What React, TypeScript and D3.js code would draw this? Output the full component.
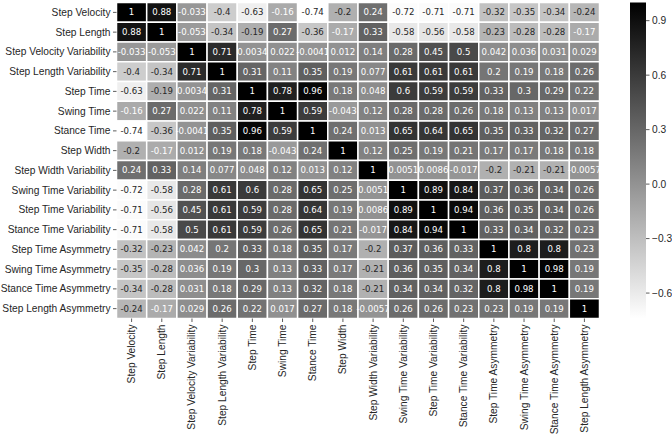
import React from "react";
import * as d3 from "d3";

const labels = [
  "Step Velocity",
  "Step Length",
  "Step Velocity Variability",
  "Step Length Variability",
  "Step Time",
  "Swing Time",
  "Stance Time",
  "Step Width",
  "Step Width Variability",
  "Swing Time Variability",
  "Step Time Variability",
  "Stance Time Variability",
  "Step Time Asymmetry",
  "Swing Time Asymmetry",
  "Stance Time Asymmetry",
  "Step Length Asymmetry",
];

const rowStepVelocity = [1, 0.88, -0.033, -0.4, -0.63, -0.16, -0.74, -0.2, 0.24, -0.72, -0.71, -0.71, -0.32, -0.35, -0.34, -0.24];
const rowStepLength = [0.88, 1, -0.053, -0.34, -0.19, 0.27, -0.36, -0.17, 0.33, -0.58, -0.56, -0.58, -0.23, -0.28, -0.28, -0.17];
const rowStepVelocityVar = [-0.033, -0.053, 1, 0.71, 0.0034, 0.022, -0.0041, 0.012, 0.14, 0.28, 0.45, 0.5, 0.042, 0.036, 0.031, 0.029];
const rowStepLengthVar = [-0.4, -0.34, 0.71, 1, 0.31, 0.11, 0.35, 0.19, 0.077, 0.61, 0.61, 0.61, 0.2, 0.19, 0.18, 0.26];
const rowStepTime = [-0.63, -0.19, 0.0034, 0.31, 1, 0.78, 0.96, 0.18, 0.048, 0.6, 0.59, 0.59, 0.33, 0.3, 0.29, 0.22];
const rowSwingTime = [-0.16, 0.27, 0.022, 0.11, 0.78, 1, 0.59, -0.043, 0.12, 0.28, 0.28, 0.26, 0.18, 0.13, 0.13, 0.017];
const rowStanceTime = [-0.74, -0.36, -0.0041, 0.35, 0.96, 0.59, 1, 0.24, 0.013, 0.65, 0.64, 0.65, 0.35, 0.33, 0.32, 0.27];
const rowStepWidth = [-0.2, -0.17, 0.012, 0.19, 0.18, -0.043, 0.24, 1, 0.12, 0.25, 0.19, 0.21, 0.17, 0.17, 0.18, 0.18];
const rowStepWidthVar = [0.24, 0.33, 0.14, 0.077, 0.048, 0.12, 0.013, 0.12, 1, 0.0051, 0.0086, -0.017, -0.2, -0.21, -0.21, -0.0057];
const rowSwingTimeVar = [-0.72, -0.58, 0.28, 0.61, 0.6, 0.28, 0.65, 0.25, 0.0051, 1, 0.89, 0.84, 0.37, 0.36, 0.34, 0.26];
const rowStepTimeVar = [-0.71, -0.56, 0.45, 0.61, 0.59, 0.28, 0.64, 0.19, 0.0086, 0.89, 1, 0.94, 0.36, 0.35, 0.34, 0.26];
const rowStanceTimeVar = [-0.71, -0.58, 0.5, 0.61, 0.59, 0.26, 0.65, 0.21, -0.017, 0.84, 0.94, 1, 0.33, 0.34, 0.32, 0.23];
const rowStepTimeAsym = [-0.32, -0.23, 0.042, 0.2, 0.33, 0.18, 0.35, 0.17, -0.2, 0.37, 0.36, 0.33, 1, 0.8, 0.8, 0.23];
const rowSwingTimeAsym = [-0.35, -0.28, 0.036, 0.19, 0.3, 0.13, 0.33, 0.17, -0.21, 0.36, 0.35, 0.34, 0.8, 1, 0.98, 0.19];
const rowStanceTimeAsym = [-0.34, -0.28, 0.031, 0.18, 0.29, 0.13, 0.32, 0.18, -0.21, 0.34, 0.34, 0.32, 0.8, 0.98, 1, 0.19];
const rowStepLengthAsym = [-0.24, -0.17, 0.029, 0.26, 0.22, 0.017, 0.27, 0.18, -0.0057, 0.26, 0.26, 0.23, 0.23, 0.19, 0.19, 1];

const colorbarTicks = [0.9, 0.6, 0.3, 0.0, -0.3, -0.6];

const matrix = [
  rowStepVelocity,
  rowStepLength,
  rowStepVelocityVar,
  rowStepLengthVar,
  rowStepTime,
  rowSwingTime,
  rowStanceTime,
  rowStepWidth,
  rowStepWidthVar,
  rowSwingTimeVar,
  rowStepTimeVar,
  rowStanceTimeVar,
  rowStepTimeAsym,
  rowSwingTimeAsym,
  rowStanceTimeAsym,
  rowStepLengthAsym,
];

const W = 672;
const H = 437;
const gridLeft = 116.5;
const gridRight = 599.5;
const gridTop = 2.5;
const gridBottom = 318.5;
const cbLeft = 630;
const cbWidth = 16;
const labelFont = "'Liberation Sans', Arial, sans-serif";
const annotFont = "'DejaVu Sans', sans-serif";
const textDark = "#262626";

export default function App() {
  const allVals = matrix.flat();
  const vmin = d3.min(allVals) as number;
  const vmax = d3.max(allVals) as number;

  const x = d3.scaleBand<number>().domain(d3.range(labels.length)).range([gridLeft, gridRight]);
  const y = d3.scaleBand<number>().domain(d3.range(labels.length)).range([gridTop, gridBottom]);
  const color = d3.scaleLinear<string>().domain([vmin, vmax]).range(["#ffffff", "#000000"]);
  const cbY = d3.scaleLinear().domain([vmin, vmax]).range([gridBottom, gridTop]);

  const fmt = (v: number) => {
    if (v === 1) return "1";
    const s = d3.format(".2~g")(v);
    return s.replace("\u2212", "-");
  };

  const textColor = (v: number) => {
    const c = d3.rgb(color(v));
    const lin = (u: number) => {
      const s = u / 255;
      return s <= 0.03928 ? s / 12.92 : Math.pow((s + 0.055) / 1.055, 2.4);
    };
    const lum = 0.2126 * lin(c.r) + 0.7152 * lin(c.g) + 0.0722 * lin(c.b);
    return lum > 0.408 ? textDark : "#ffffff";
  };

  const bw = x.bandwidth();
  const bh = y.bandwidth();

  return (
    <svg
      width={W}
      height={H}
      style={{ position: "absolute", left: 0, top: 0, background: "#ffffff" }}
    >
      <defs>
        <linearGradient id="cbgrad" x1="0" y1="1" x2="0" y2="0">
          <stop offset="0%" stopColor={color(vmin)} />
          <stop offset="100%" stopColor={color(vmax)} />
        </linearGradient>
      </defs>
      <rect x={0} y={0} width={W} height={H} fill="#ffffff" />
      {matrix.map((row, i) =>
        row.map((v, j) => (
          <g key={`c-${i}-${j}`}>
            <rect
              x={x(j)}
              y={y(i)}
              width={bw}
              height={bh}
              fill={color(v)}
              stroke="#ffffff"
              strokeWidth={1.5}
            />
            <text
              x={(x(j) as number) + bw / 2}
              y={(y(i) as number) + bh / 2}
              textAnchor="middle"
              dominantBaseline="central"
              fontFamily={annotFont}
              fontSize={8.6}
              fill={textColor(v)}
            >
              {fmt(v)}
            </text>
          </g>
        ))
      )}
      {labels.map((l, i) => (
        <g key={`yl-${i}`}>
          <line
            x1={gridLeft - 3.5}
            x2={gridLeft}
            y1={(y(i) as number) + bh / 2}
            y2={(y(i) as number) + bh / 2}
            stroke="#333333"
            strokeWidth={0.8}
          />
          <text
            x={gridLeft - 6}
            y={(y(i) as number) + bh / 2}
            textAnchor="end"
            dominantBaseline="central"
            fontFamily={labelFont}
            fontSize={10.2}
            fill={textDark}
          >
            {l}
          </text>
        </g>
      ))}
      {labels.map((l, j) => {
        const cx = (x(j) as number) + bw / 2;
        return (
          <g key={`xl-${j}`}>
            <line
              x1={cx}
              x2={cx}
              y1={gridBottom}
              y2={gridBottom + 3.5}
              stroke="#333333"
              strokeWidth={0.8}
            />
            <text
              transform={`translate(${cx},${gridBottom + 6}) rotate(-90)`}
              textAnchor="end"
              dominantBaseline="central"
              fontFamily={labelFont}
              fontSize={10.2}
              fill={textDark}
            >
              {l}
            </text>
          </g>
        );
      })}
      <rect
        x={cbLeft}
        y={gridTop}
        width={cbWidth}
        height={gridBottom - gridTop}
        fill="url(#cbgrad)"
      />
      {colorbarTicks.map((t) => (
        <g key={`cb-${t}`}>
          <line
            x1={cbLeft + cbWidth}
            x2={cbLeft + cbWidth + 3.5}
            y1={cbY(t)}
            y2={cbY(t)}
            stroke="#333333"
            strokeWidth={0.8}
          />
          <text
            x={cbLeft + cbWidth + 6}
            y={cbY(t)}
            dominantBaseline="central"
            fontFamily={labelFont}
            fontSize={10.2}
            fill={textDark}
          >
            {t < 0 ? "\u2212" + Math.abs(t).toFixed(1) : t.toFixed(1)}
          </text>
        </g>
      ))}
    </svg>
  );
}
